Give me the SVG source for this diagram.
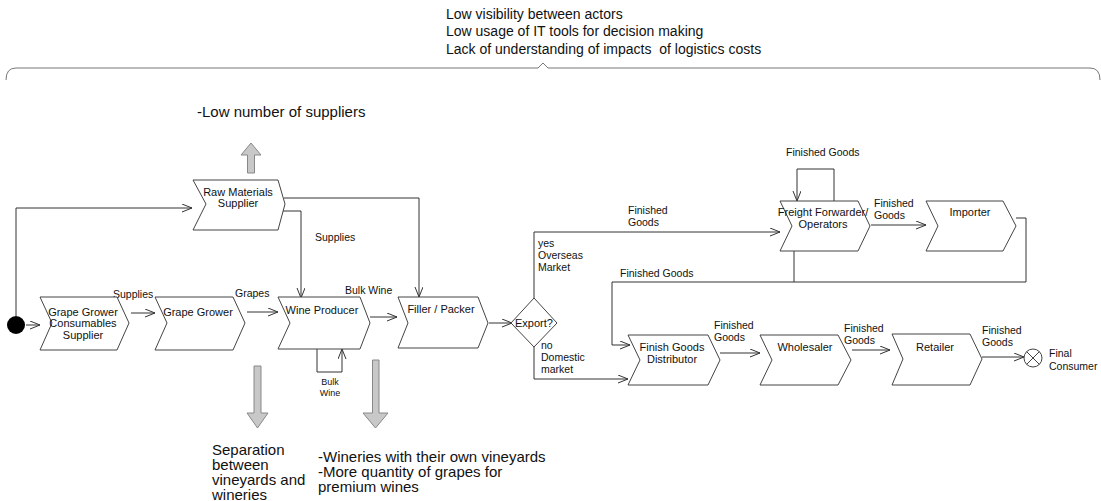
<svg xmlns="http://www.w3.org/2000/svg" width="1101" height="501" viewBox="0 0 1101 501">
  <style>
    text { font-family: "Liberation Sans", Arial, sans-serif; fill: #111; }
    .node { fill: #fff; stroke: #444; stroke-width: 1; }
    .nt { font-size: 11px; text-anchor: middle; }
    .lbl { font-size: 10.5px; }
    .note { font-size: 15px; }
    .top { font-size: 14px; }
    .conn { fill: none; stroke: #333; stroke-width: 1; }
    .big { fill: #c8c8c8; stroke: #888; stroke-width: 1; }
  </style>
  <defs>
    <marker id="open" markerUnits="userSpaceOnUse" markerWidth="12" markerHeight="10" refX="10" refY="4" orient="auto">
      <path d="M0,0 L10,4 L0,8" fill="none" stroke="#333" stroke-width="1"/>
    </marker>
  </defs>

  <!-- overall issues bracket -->
  <g id="issues">
    <text class="top" x="446" y="19">Low visibility between actors</text>
    <text class="top" x="446" y="36">Low usage of IT tools for decision making</text>
    <text class="top" x="446" y="54" xml:space="preserve">Lack of understanding of impacts  of logistics costs</text>
    <path d="M6,80 Q6,68 16,68 L538,68 L543,63 L548,68 L1090,68 Q1100,68 1100,80" fill="none" stroke="#777" stroke-width="1"/>
  </g>

  <!-- connectors -->
  <g id="connectors" class="conn">
    <path class="conn" d="M16,316 L16,208 L192,208" marker-end="url(#open)"/>
    <path class="conn" d="M26,325 L40,325" marker-end="url(#open)"/>
    <path class="conn" d="M131,313 L155,313" marker-end="url(#open)"/>
    <path class="conn" d="M247,312 L278,312" marker-end="url(#open)"/>
    <path class="conn" d="M370,317 L397,317" marker-end="url(#open)"/>
    <path class="conn" d="M489,323 L512,323" marker-end="url(#open)"/>
    <path class="conn" d="M284,198 L419,198 L419,297" marker-end="url(#open)"/>
    <path class="conn" d="M283,211 L301,211 L301,298" marker-end="url(#open)"/>
    <path class="conn" d="M317,349 L317,372 L342,372 L342,349" marker-end="url(#open)"/>
    <path class="conn" d="M534,298 L534,232 L780,232" marker-end="url(#open)"/>
    <path class="conn" d="M534,347 L534,379 L628,379" marker-end="url(#open)"/>
    <path class="conn" d="M834,201 L834,169 L797,169 L797,201" marker-end="url(#open)"/>
    <path class="conn" d="M871,225 L926,225" marker-end="url(#open)"/>
    <path class="conn" d="M1016,218 L1026,218 L1026,282 L612,282 L612,345 L630,345" marker-end="url(#open)"/>
    <path class="conn" d="M794,251 L794,282"/>
    <path class="conn" d="M720,353 L760,353" marker-end="url(#open)"/>
    <path class="conn" d="M852,350 L890,350" marker-end="url(#open)"/>
    <path class="conn" d="M982,357 L1024,357" marker-end="url(#open)"/>
  </g>

  <!-- connector labels -->
  <g id="connector-labels">
    <text class="lbl" x="113" y="298">Supplies</text>
    <text class="lbl" x="235" y="297">Grapes</text>
    <text class="lbl" x="345" y="294">Bulk Wine</text>
    <text class="lbl" x="315" y="241">Supplies</text>
    <text x="330" y="385" font-size="9" text-anchor="middle">Bulk</text>
    <text x="330" y="396" font-size="9" text-anchor="middle">Wine</text>
    <text class="lbl" x="628" y="214">Finished</text>
    <text class="lbl" x="628" y="226">Goods</text>
    <text class="lbl" x="538" y="247">yes</text>
    <text class="lbl" x="538" y="259">Overseas</text>
    <text class="lbl" x="538" y="271">Market</text>
    <text class="lbl" x="541" y="349">no</text>
    <text class="lbl" x="541" y="361">Domestic</text>
    <text class="lbl" x="541" y="373">market</text>
    <text class="lbl" x="786" y="156">Finished Goods</text>
    <text class="lbl" x="874" y="207">Finished</text>
    <text class="lbl" x="874" y="219">Goods</text>
    <text class="lbl" x="620" y="277">Finished Goods</text>
    <text class="lbl" x="714" y="329">Finished</text>
    <text class="lbl" x="714" y="341">Goods</text>
    <text class="lbl" x="844" y="332">Finished</text>
    <text class="lbl" x="844" y="344">Goods</text>
    <text class="lbl" x="982" y="334">Finished</text>
    <text class="lbl" x="982" y="346">Goods</text>
  </g>

  <!-- start point -->
  <g id="start">
    <circle cx="16" cy="325" r="9" fill="#000"/>
  </g>

  <g id="grape-grower-consumables-supplier">
    <path class="node" d="M40,297 L117,297 L129,323 L117,350 L40,350 L52,323 Z"/>
    <text class="nt" x="83" y="316">Grape Grower</text>
    <text class="nt" x="83" y="327">Consumables</text>
    <text class="nt" x="83" y="339">Supplier</text>
  </g>

  <g id="grape-grower">
    <path class="node" d="M155,297 L233,297 L245,323 L233,350 L155,350 L167,323 Z"/>
    <text class="nt" x="198" y="316">Grape Grower</text>
  </g>

  <g id="raw-materials-supplier">
    <path class="node" d="M193,180 L278,180 L285,204 L278,230 L193,230 L206,204 Z"/>
    <text class="nt" x="238" y="196">Raw Materials</text>
    <text class="nt" x="238" y="207">Supplier</text>
  </g>

  <g id="wine-producer">
    <path class="node" d="M278,297 L360,297 L370,323 L360,349 L278,349 L290,323 Z"/>
    <text class="nt" x="322" y="314">Wine Producer</text>
  </g>

  <g id="filler-packer">
    <path class="node" d="M398,297 L478,297 L488,323 L478,348 L398,348 L408,323 Z"/>
    <text class="nt" x="441" y="313">Filler / Packer</text>
  </g>

  <g id="export-decision">
    <path class="node" d="M534,298 L557,323 L534,347 L511,323 Z"/>
    <text class="nt" x="534" y="327">Export?</text>
  </g>

  <g id="freight-forwarder">
    <path class="node" d="M780,201 L858,201 L870,226 L858,251 L780,251 L792,226 Z"/>
    <text class="nt" x="823" y="216">Freight Forwarder/</text>
    <text class="nt" x="823" y="228">Operators</text>
  </g>

  <g id="importer">
    <path class="node" d="M926,201 L1003,201 L1016,226 L1003,251 L926,251 L938,226 Z"/>
    <text class="nt" x="970" y="216">Importer</text>
  </g>

  <g id="finish-goods-distributor">
    <path class="node" d="M628,335 L708,335 L720,360 L708,385 L628,385 L640,360 Z"/>
    <text class="nt" x="672" y="351">Finish Goods</text>
    <text class="nt" x="672" y="363">Distributor</text>
  </g>

  <g id="wholesaler">
    <path class="node" d="M760,335 L838,335 L851,360 L838,385 L760,385 L772,360 Z"/>
    <text class="nt" x="805" y="351">Wholesaler</text>
  </g>

  <g id="retailer">
    <path class="node" d="M892,334 L970,334 L982,359 L970,385 L892,385 L903,359 Z"/>
    <text class="nt" x="935" y="351">Retailer</text>
  </g>

  <g id="final-consumer">
    <circle cx="1033" cy="358" r="9" fill="#fff" stroke="#444"/>
    <path d="M1026.6,351.6 L1039.4,364.4 M1039.4,351.6 L1026.6,364.4" stroke="#444" fill="none"/>
    <text class="lbl" x="1049" y="357">Final</text>
    <text class="lbl" x="1049" y="370">Consumer</text>
  </g>

  <!-- issue callouts -->
  <g id="supplier-issue">
    <path class="big" d="M247.5,173 L247.5,155 L241,155 L251,143 L261,155 L254.5,155 L254.5,173 Z"/>
    <text class="note" x="197" y="117">-Low number of suppliers</text>
  </g>

  <g id="grower-issue">
    <path class="big" d="M254,366 L254,413 L247,413 L257.5,428 L268,413 L261,413 L261,366 Z"/>
    <text class="note" x="212" y="455">Separation</text>
    <text class="note" x="212" y="470">between</text>
    <text class="note" x="212" y="485">vineyards and</text>
    <text class="note" x="212" y="500">wineries</text>
  </g>

  <g id="winery-issue">
    <path class="big" d="M372.5,360 L372.5,413 L363,413 L375.5,428 L388,413 L379,413 L379,360 Z"/>
    <text class="note" x="318" y="462">-Wineries with their own vineyards</text>
    <text class="note" x="318" y="477">-More quantity of grapes for</text>
    <text class="note" x="318" y="492">premium wines</text>
  </g>
</svg>
